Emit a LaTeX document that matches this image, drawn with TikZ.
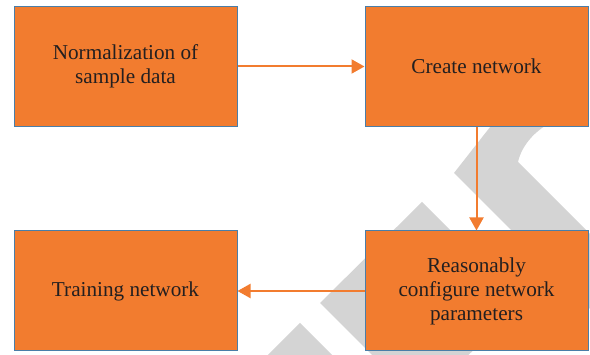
\documentclass[tikz,border=0pt]{standalone}
\usepackage{fontspec}
\setmainfont{Liberation Serif}
\usetikzlibrary{arrows.meta}
\definecolor{boxfill}{HTML}{F27C2F}
\definecolor{boxline}{HTML}{4A7EA8}
\definecolor{arrcol}{HTML}{F27C2F}
\definecolor{wm}{HTML}{D4D4D4}
\definecolor{txt}{HTML}{231F20}
\tikzset{
  stepbox/.style={draw=boxline, line width=1pt, fill=boxfill, minimum width=223pt, minimum height=120pt,
    align=center, text=txt, font=\fontsize{21.2pt}{24pt}\selectfont, inner sep=0pt},
  arr/.style={draw=arrcol, line width=2pt, -{Triangle[length=13pt,width=14pt]}}
}
\begin{document}
\begin{tikzpicture}[x=1pt,y=-1pt]
\useasboundingbox (0,0) rectangle (590,355);
\begin{scope}
\clip (0,0) rectangle (590,355);
\fill[wm] (454,173) -- (505,108) -- (565,115) .. controls (535,128) and (522,145) .. (518,162) -- (600,244) -- (600,319) -- cycle;
\fill[wm] (422,202) -- (320,303) -- (420,403) -- (522,302) -- cycle;
\fill[wm] (300,323) -- (250,373) -- (350,373) -- cycle;
\end{scope}
\node[stepbox] (tl) at (125.5,66.5) {Normalization of\\sample data};
\node[stepbox] (tr) at (476.5,66.5) {Create network};
\node[stepbox] (bl) at (125.5,291) {Training network};
\node[stepbox] (br) at (476.5,291) {Reasonably\\configure network\\parameters};
\draw[arr] (tl) -- (tr);
\draw[arr] (tr) -- (br);
\draw[arr] (br) -- (bl);
\end{tikzpicture}
\end{document}
